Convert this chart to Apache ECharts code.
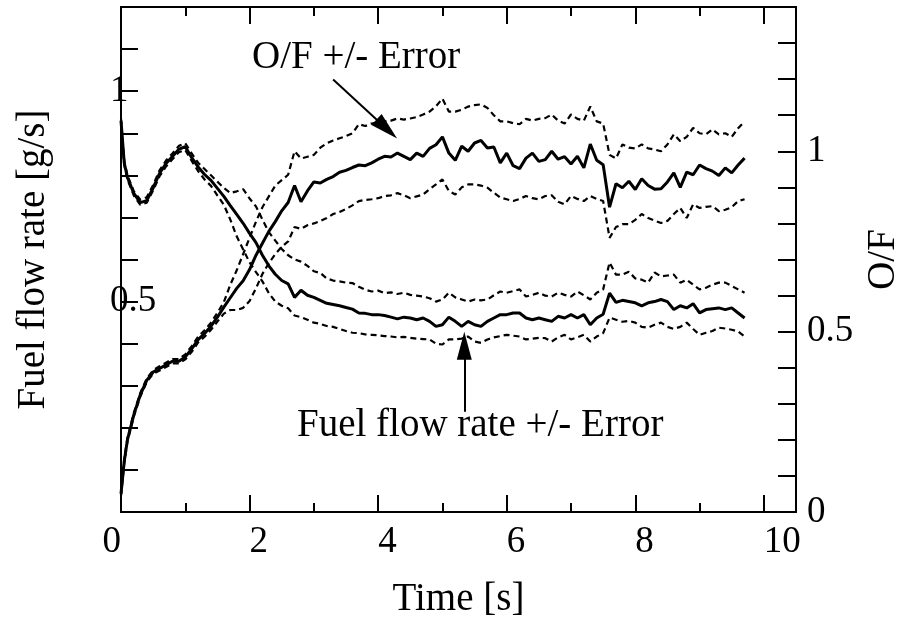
<!DOCTYPE html>
<html>
<head>
<meta charset="utf-8">
<script src="https://cdn.jsdelivr.net/npm/echarts@6/dist/echarts.min.js"></script>
<style>
  html, body { margin: 0; padding: 0; background: #fff; }
  #chart { width: 898px; height: 621px; }
</style>
</head>
<body>
<div id="chart"></div>
<script>
  // time stamps [s]
  const times = [0, 0.05,
    0.1, 0.2, 0.3, 0.4, 0.5, 0.6, 0.7, 0.8, 0.9, 1.0,
    1.1, 1.2, 1.3, 1.4, 1.5, 1.6, 1.7, 1.8, 1.9, 2.0,
    2.1, 2.2, 2.3, 2.4, 2.5, 2.6, 2.7, 2.8, 2.9, 3.0,
    3.1, 3.2, 3.3, 3.4, 3.5, 3.6, 3.7, 3.8, 3.9, 4.0,
    4.1, 4.2, 4.3, 4.4, 4.5, 4.6, 4.7, 4.8, 4.9, 5.0,
    5.1, 5.2, 5.3, 5.4, 5.5, 5.6, 5.7, 5.8, 5.9, 6.0,
    6.1, 6.2, 6.3, 6.4, 6.5, 6.6, 6.7, 6.8, 6.9, 7.0,
    7.1, 7.2, 7.3, 7.4, 7.5, 7.6, 7.7, 7.8, 7.9, 8.0,
    8.1, 8.2, 8.3, 8.4, 8.5, 8.6, 8.7, 8.8, 8.9, 9.0,
    9.1, 9.2, 9.3, 9.4, 9.5, 9.6, 9.7];

  // fuel flow rate [g/s] (left axis)
  const fuelMean = [0.93, 0.83,
    0.795, 0.757, 0.735, 0.74, 0.77, 0.805, 0.828, 0.845, 0.862, 0.868,
    0.842, 0.82, 0.802, 0.788, 0.769, 0.75, 0.728, 0.707, 0.686, 0.662,
    0.64, 0.61, 0.585, 0.565, 0.55, 0.542, 0.51, 0.527, 0.515, 0.51,
    0.503, 0.496, 0.493, 0.49, 0.486, 0.482, 0.473, 0.472, 0.469, 0.469,
    0.467, 0.463, 0.459, 0.463, 0.461, 0.457, 0.461, 0.453, 0.441, 0.445,
    0.463, 0.453, 0.441, 0.453, 0.445, 0.441, 0.453, 0.461, 0.469, 0.469,
    0.473, 0.473, 0.461, 0.457, 0.461, 0.457, 0.453, 0.465, 0.461, 0.469,
    0.461, 0.469, 0.445, 0.461, 0.47, 0.52, 0.498, 0.503, 0.5, 0.497,
    0.49, 0.497, 0.5, 0.505, 0.5, 0.481, 0.49, 0.485, 0.495, 0.473,
    0.481, 0.483, 0.485, 0.481, 0.485, 0.473, 0.461];
  const fuelUpper = [0.935, 0.835,
    0.8, 0.762, 0.742, 0.748, 0.777, 0.812, 0.835, 0.852, 0.87, 0.876,
    0.852, 0.83, 0.815, 0.8, 0.785, 0.77, 0.758, 0.762, 0.767, 0.745,
    0.726, 0.695, 0.665, 0.645, 0.625, 0.61, 0.6, 0.595, 0.585, 0.572,
    0.568, 0.555, 0.55, 0.548, 0.545, 0.544, 0.535, 0.528, 0.524, 0.526,
    0.52, 0.522, 0.518, 0.521, 0.516, 0.514, 0.512, 0.508, 0.5, 0.505,
    0.521, 0.51, 0.505, 0.5, 0.505, 0.503, 0.505, 0.515, 0.524, 0.521,
    0.525, 0.529, 0.512, 0.516, 0.521, 0.514, 0.512, 0.521, 0.516, 0.512,
    0.524, 0.515, 0.505, 0.521, 0.529, 0.593, 0.564, 0.564, 0.571, 0.555,
    0.552, 0.545, 0.569, 0.56, 0.562, 0.564, 0.545, 0.552, 0.54, 0.529,
    0.533, 0.54, 0.545, 0.545, 0.537, 0.529, 0.521];
  const fuelLower = [0.925, 0.825,
    0.79, 0.752, 0.73, 0.735, 0.764, 0.798, 0.821, 0.838, 0.855, 0.86,
    0.834, 0.81, 0.79, 0.775, 0.752, 0.73, 0.695, 0.655, 0.624, 0.593,
    0.57, 0.548, 0.52, 0.5, 0.49, 0.484, 0.467, 0.463, 0.457, 0.45,
    0.447, 0.442, 0.44, 0.435, 0.43, 0.426, 0.425, 0.422, 0.421, 0.42,
    0.418, 0.417, 0.415, 0.416, 0.414, 0.412, 0.411, 0.41, 0.4, 0.398,
    0.41, 0.41, 0.412, 0.417, 0.405, 0.402, 0.41, 0.415, 0.418, 0.421,
    0.419, 0.417, 0.41, 0.412, 0.414, 0.413, 0.405, 0.415, 0.421, 0.41,
    0.415, 0.421, 0.405, 0.417, 0.425, 0.462, 0.457, 0.452, 0.454, 0.45,
    0.44, 0.438, 0.445, 0.45, 0.44, 0.435, 0.44, 0.45, 0.435, 0.421,
    0.426, 0.43, 0.438, 0.436, 0.433, 0.429, 0.417];

  // O/F (right axis)
  const ofMean = [0.05, 0.14,
    0.2, 0.27, 0.325, 0.365, 0.388, 0.398, 0.408, 0.418, 0.418, 0.43,
    0.452, 0.478, 0.495, 0.515, 0.54, 0.568, 0.594, 0.62, 0.641, 0.672,
    0.712, 0.745, 0.778, 0.805, 0.835, 0.858, 0.905, 0.86, 0.89, 0.915,
    0.912, 0.922, 0.93, 0.942, 0.947, 0.955, 0.962, 0.96, 0.968, 0.978,
    0.986, 0.984, 0.995, 0.986, 0.977, 0.995, 0.986, 1.008, 1.018, 1.04,
    0.995, 0.975, 1.014, 1.0, 1.023, 1.03, 1.009, 1.012, 0.968, 0.995,
    0.96, 0.952, 0.981, 0.995, 0.972, 0.977, 1.0, 0.978, 0.985, 0.965,
    0.986, 0.954, 1.02, 0.975, 0.963, 0.845, 0.91, 0.899, 0.917, 0.894,
    0.924, 0.905, 0.895, 0.896, 0.915, 0.94, 0.9, 0.942, 0.935, 0.962,
    0.952, 0.945, 0.933, 0.954, 0.94, 0.962, 0.981];
  const ofUpper = [0.055, 0.145,
    0.205, 0.275, 0.33, 0.37, 0.393, 0.404, 0.414, 0.424, 0.424, 0.437,
    0.46, 0.486, 0.504, 0.525, 0.552, 0.582, 0.63, 0.67, 0.715, 0.76,
    0.805, 0.845, 0.875, 0.905, 0.92, 0.935, 1.0, 0.98, 0.985, 0.99,
    1.01, 1.022, 1.03, 1.036, 1.042, 1.05, 1.075, 1.07, 1.077, 1.08,
    1.083, 1.085, 1.091, 1.088, 1.091, 1.095, 1.102, 1.11, 1.125, 1.146,
    1.11, 1.11, 1.115, 1.124, 1.128, 1.13, 1.12, 1.1, 1.083, 1.083,
    1.078, 1.075, 1.09, 1.085, 1.09, 1.092, 1.102, 1.085, 1.077, 1.102,
    1.09, 1.085, 1.124, 1.083, 1.077, 0.99, 0.98, 1.019, 1.01, 1.008,
    1.019, 1.008, 1.005, 1.0, 1.019, 1.047, 1.028, 1.04, 1.065, 1.05,
    1.047, 1.061, 1.047, 1.05, 1.04, 1.064, 1.083];
  const ofLower = [0.045, 0.135,
    0.195, 0.265, 0.32, 0.36, 0.383, 0.392, 0.402, 0.412, 0.412, 0.423,
    0.444, 0.47, 0.486, 0.505, 0.528, 0.55, 0.56, 0.56, 0.566, 0.585,
    0.62, 0.66, 0.69, 0.715, 0.735, 0.75, 0.79, 0.785, 0.795, 0.8,
    0.807, 0.815, 0.826, 0.832, 0.84, 0.85, 0.862, 0.865, 0.867, 0.87,
    0.876, 0.878, 0.884, 0.878, 0.87, 0.875, 0.88, 0.895, 0.908, 0.922,
    0.89, 0.88, 0.9, 0.908, 0.908, 0.905, 0.899, 0.885, 0.872, 0.867,
    0.862, 0.868, 0.876, 0.87, 0.867, 0.876, 0.878, 0.86, 0.853, 0.876,
    0.868, 0.862, 0.876, 0.868, 0.862, 0.76, 0.79, 0.798, 0.798, 0.81,
    0.826, 0.815, 0.808, 0.801, 0.807, 0.826, 0.843, 0.815, 0.853, 0.843,
    0.846, 0.848, 0.834, 0.838, 0.845, 0.862, 0.867];

  // labels shown on the axes
  const xTickLabels = ['0', '2', '4', '6', '8', '10'];
  const fuelTickLabels = ['0.5', '1'];
  const ofTickLabels = ['0', '0.5', '1'];

  // annotation arrows, [time, value] from tail to head
  const ofArrow = [[3.3, 1.199], [4.135, 1.062]];
  const fuelArrow = [[5.34, 0.238], [5.34, 0.395]];

  const FONT = "'Liberation Serif', 'Times New Roman', serif";
  const BLACK = '#000';

  const pairs = vals => times.map((t, i) => [t, vals[i]]);
  const showIf = list => v => {
    const s = String(Math.round(v * 10) / 10);
    return list.indexOf(s) !== -1 ? s : '';
  };

  const xAxisBase = (position, tickLen, extra) => Object.assign({
    type: 'value',
    position: position,
    min: 0,
    max: 10.5,
    axisLine: { show: true, onZero: false, lineStyle: { color: BLACK, width: 2 } },
    axisTick: { show: true, inside: true, length: tickLen, lineStyle: { color: BLACK, width: 2 } },
    axisLabel: { show: false },
    splitLine: { show: false }
  }, extra);

  const arrowLine = (pts, headSize) => ({
    silent: true,
    animation: false,
    symbol: ['none', 'triangle'],
    label: { show: false },
    emphasis: { disabled: true },
    lineStyle: { color: BLACK, width: 2, type: 'solid' },
    data: [[
      { coord: pts[0], symbol: 'none' },
      { coord: pts[1], symbol: 'triangle', symbolSize: headSize, itemStyle: { color: BLACK } }
    ]]
  });

  const lineSeries = (name, vals, yIdx, dashed, extra) => Object.assign({
    name: name,
    type: 'line',
    xAxisIndex: 0,
    yAxisIndex: yIdx,
    data: pairs(vals),
    showSymbol: false,
    symbol: 'none',
    silent: true,
    lineStyle: dashed
      ? { color: BLACK, width: 2.2, type: [6, 4] }
      : { color: BLACK, width: 3, type: 'solid' },
    z: dashed ? 2 : 3
  }, extra);

  const chartInit = () => {
    const chart = echarts.init(document.getElementById('chart'), null, { renderer: 'canvas' });

    const option = {
      animation: false,
      backgroundColor: '#fff',
      textStyle: { fontFamily: FONT, color: BLACK },
      grid: { left: 121, right: 102, top: 7, bottom: 109, containLabel: false, outerBoundsMode: 'none' },
      xAxis: [
        xAxisBase('bottom', 17, {
          interval: 2,
          name: 'Time [s]',
          nameLocation: 'middle',
          nameGap: 68,
          nameTextStyle: { fontFamily: FONT, fontSize: 39, color: BLACK },
          axisLabel: {
            show: true, margin: 12, align: 'left', fontFamily: FONT, fontSize: 37, color: BLACK,
            formatter: v => (v > 0 && xTickLabels.indexOf(String(v)) !== -1 ? String(v) : '')
          }
        }),
        xAxisBase('bottom', 9, {
          interval: 1,
          axisLabel: {
            show: true, margin: 12, align: 'right', fontFamily: FONT, fontSize: 37, color: BLACK,
            formatter: v => (v === 0 ? xTickLabels[0] : '')
          }
        }),
        xAxisBase('top', 17, { interval: 2 }),
        xAxisBase('top', 9, { interval: 1 })
      ],
      yAxis: [
        {
          type: 'value',
          position: 'left',
          min: 0,
          max: 1.2,
          interval: 0.1,
          name: 'Fuel flow rate [g/s]',
          nameLocation: 'middle',
          nameRotate: 90,
          nameGap: 68,
          nameTextStyle: { fontFamily: FONT, fontSize: 39, color: BLACK },
          axisLine: { show: true, onZero: false, lineStyle: { color: BLACK, width: 2 } },
          axisTick: { show: true, inside: true, length: 17, lineStyle: { color: BLACK, width: 2 } },
          axisLabel: {
            show: true, margin: 11, align: 'left', fontFamily: FONT, fontSize: 37, color: BLACK,
            formatter: showIf(fuelTickLabels)
          },
          splitLine: { show: false }
        },
        {
          type: 'value',
          position: 'right',
          min: 0,
          max: 1.4,
          interval: 0.1,
          name: 'O/F',
          nameLocation: 'middle',
          nameRotate: 90,
          nameGap: 62,
          nameTextStyle: { fontFamily: FONT, fontSize: 39, color: BLACK },
          axisLine: { show: true, onZero: false, lineStyle: { color: BLACK, width: 2 } },
          axisTick: { show: true, inside: true, length: 18, lineStyle: { color: BLACK, width: 2 } },
          axisLabel: {
            show: true, margin: 11, align: 'left', fontFamily: FONT, fontSize: 37, color: BLACK,
            formatter: showIf(ofTickLabels)
          },
          splitLine: { show: false }
        }
      ],
      series: [
        lineSeries('Fuel flow rate +Error', fuelUpper, 0, true),
        lineSeries('Fuel flow rate -Error', fuelLower, 0, true),
        lineSeries('Fuel flow rate', fuelMean, 0, false, { markLine: arrowLine(fuelArrow, [15, 28]) }),
        lineSeries('O/F +Error', ofUpper, 1, true),
        lineSeries('O/F -Error', ofLower, 1, true),
        lineSeries('O/F', ofMean, 1, false, { markLine: arrowLine(ofArrow, [15, 28]) })
      ],
      graphic: [
        {
          type: 'text', x: 252, y: 58, silent: true,
          style: { text: 'O/F +/- Error', font: '39px ' + FONT, fill: BLACK, align: 'left', verticalAlign: 'middle' }
        },
        {
          type: 'text', x: 297, y: 426, silent: true,
          style: { text: 'Fuel flow rate +/- Error', font: '39px ' + FONT, fill: BLACK, align: 'left', verticalAlign: 'middle' }
        }
      ]
    };

    chart.setOption(option);
  };

  chartInit();
</script>
</body>
</html>
